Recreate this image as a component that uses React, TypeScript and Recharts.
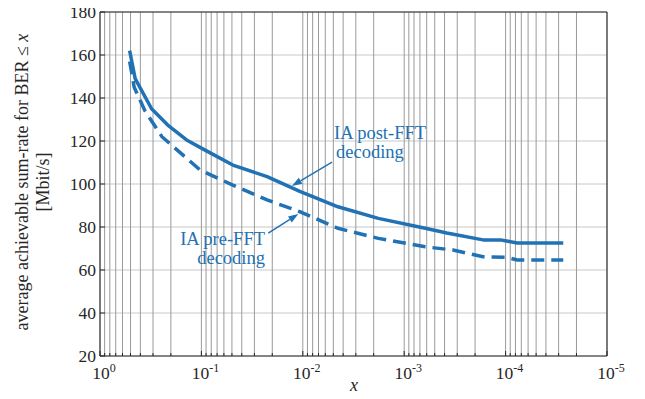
import { LineChart, Line, XAxis, YAxis, CartesianGrid, ReferenceLine } from "recharts";

const BLUE = "#2171b5";
const INK = "#262626";
const FONT = '"Liberation Serif", "Times New Roman", serif';

// BER threshold x (log axis, reversed) and average sum-rate in Mbit/s
const postX = [0.51, 0.45, 0.31, 0.21, 0.14, 0.094, 0.049, 0.0225, 0.0107, 0.0045, 0.0018, 0.00062, 0.00038, 0.000167, 0.000113, 0.000077, 0.000027];
const postRate = [162, 149, 135, 127, 120.5, 116, 108.8, 103.4, 96.6, 89.4, 84, 79.4, 77.2, 74, 74, 72.6, 72.6];

const preX = [0.51, 0.46, 0.36, 0.245, 0.103, 0.049, 0.0225, 0.0107, 0.0045, 0.0018, 0.00062, 0.00033, 0.000167, 0.000097, 0.000077, 0.000027];
const preRate = [157, 145, 134, 122, 106.5, 99.5, 92.6, 87.1, 79.4, 74.7, 70.8, 69.3, 66.2, 65.9, 64.7, 64.7];

const decades = [1e-5, 1e-4, 1e-3, 1e-2, 1e-1];
const mantissas = [1, 2, 3, 4, 5, 6, 7, 8, 9];
const xTicks = [...decades.flatMap((d) => mantissas.map((m) => m * d)), 1];
const yTicks = [20, 40, 60, 80, 100, 120, 140, 160, 180];

// annotation arrows: tail -> tip, in data coordinates
const postArrow = [{ x: 0.00515, y: 110.2 }, { x: 0.0128, y: 99.1 }];
const preArrow = [{ x: 0.0219, y: 77.1 }, { x: 0.01107, y: 86.0 }];

const postData = postX.map((x, i) => ({ x, rate: postRate[i] }));
const preData = preX.map((x, i) => ({ x, rate: preRate[i] }));

function XTick({ x, y, payload }: any) {
  const e = Math.log10(payload.value);
  const major = Math.abs(e - Math.round(e)) < 1e-6;
  const exp = Math.round(e);
  return (
    <g>
      <line x1={x} x2={x} y1={y} y2={y - (major ? 5 : 3)} stroke={INK} />
      {major && (
        <text x={x + 4} y={y + 23} textAnchor="middle" fontSize={17.5} fill={INK} fontFamily={FONT}>
          10
          <tspan dy={-7} fontSize={12}>{exp === 0 ? "0" : "-" + Math.abs(exp)}</tspan>
        </text>
      )}
    </g>
  );
}

function YTick({ x, y, payload }: any) {
  return (
    <g>
      <line x1={x} x2={x + 5} y1={y} y2={y} stroke={INK} />
      <text x={x - 4} y={y + 6} textAnchor="end" fontSize={17.5} fill={INK} fontFamily={FONT}>
        {payload.value}
      </text>
    </g>
  );
}

function Arrow(props: any) {
  const { x1, y1, x2, y2 } = props;
  const ang = Math.atan2(y2 - y1, x2 - x1);
  const L = 10;
  const W = 3.5;
  const bx = x2 - L * Math.cos(ang);
  const by = y2 - L * Math.sin(ang);
  const px = -Math.sin(ang) * W;
  const py = Math.cos(ang) * W;
  return (
    <g>
      <line x1={x1} y1={y1} x2={bx} y2={by} stroke={BLUE} strokeWidth={1.5} />
      <polygon points={`${x2},${y2} ${bx + px},${by + py} ${bx - px},${by - py}`} fill={BLUE} />
    </g>
  );
}

export default function App() {
  return (
    <div style={{ position: "relative", width: 645, height: 399, margin: -8, background: "#fff" }}>
      <LineChart width={645} height={399} margin={{ top: 12, right: 38, bottom: 0, left: 0 }}>
        <CartesianGrid vertical={false} stroke="#c8c8c8" />
        <CartesianGrid horizontal={false} stroke="#9a9a9a" />
        <XAxis
          dataKey="x"
          type="number"
          scale="log"
          domain={[1e-5, 1]}
          reversed
          allowDataOverflow
          ticks={xTicks}
          interval={0}
          height={43}
          tickSize={0}
          tickMargin={0}
          tick={<XTick />}
          stroke={INK}
        />
        <YAxis
          type="number"
          domain={[20, 180]}
          ticks={yTicks}
          interval={0}
          width={100}
          tickSize={0}
          tickMargin={0}
          tick={<YTick />}
          stroke={INK}
        />
        <ReferenceLine y={180} stroke={INK} />
        <ReferenceLine x={1e-5} stroke={INK} />
        <Line
          data={preData}
          dataKey="rate"
          type="linear"
          stroke={BLUE}
          strokeWidth={3.5}
          strokeDasharray="13 7"
          dot={false}
          isAnimationActive={false}
        />
        <Line
          data={postData}
          dataKey="rate"
          type="linear"
          stroke={BLUE}
          strokeWidth={3.5}
          strokeLinejoin="round"
          dot={false}
          isAnimationActive={false}
        />
        <ReferenceLine segment={postArrow} shape={<Arrow />} />
        <ReferenceLine segment={preArrow} shape={<Arrow />} />
      </LineChart>
      <svg width={645} height={399} style={{ position: "absolute", left: 0, top: 0, pointerEvents: "none" }}>
        <g fontFamily={FONT} fill={BLUE} fontSize={18.5}>
          <text x={334} y={139}>IA post-FFT</text>
          <text x={336} y={158}>decoding</text>
          <text x={265} y={245} textAnchor="end">IA pre-FFT</text>
          <text x={265} y={264} textAnchor="end">decoding</text>
        </g>
        <g fontFamily={FONT} fill={INK} fontSize={18} textAnchor="middle">
          <text transform="translate(28,182) rotate(-90)">
            average achievable sum-rate for BER ≤ <tspan fontStyle="italic">x</tspan>
          </text>
          <text transform="translate(49,182) rotate(-90)">[Mbit/s]</text>
          <text x={354} y={391} fontStyle="italic">x</text>
        </g>
      </svg>
    </div>
  );
}
